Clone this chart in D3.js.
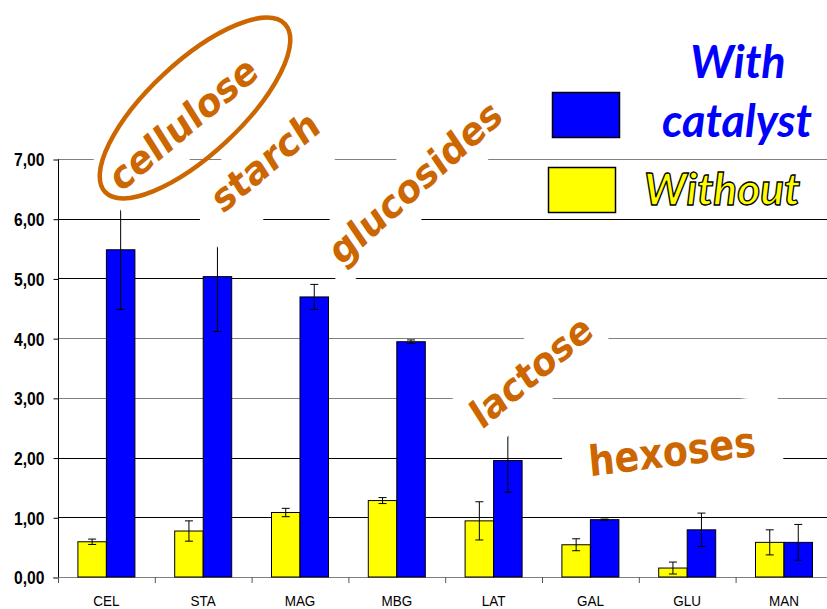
<!DOCTYPE html>
<html>
<head>
<meta charset="utf-8">
<script src="https://cdn.jsdelivr.net/npm/d3@7"></script>
<style>
  html, body { margin: 0; padding: 0; background: #fff; }
  svg { display: block; }
</style>
</head>
<body>
<div id="chart"></div>
<script>
// ---------- data ----------
const categories = ["CEL", "STA", "MAG", "MBG", "LAT", "GAL", "GLU", "MAN"];
const withoutValues = [0.59, 0.77, 1.08, 1.28, 0.94, 0.54, 0.15, 0.58];
const withoutErrors = [0.045, 0.17, 0.07, 0.05, 0.32, 0.10, 0.10, 0.21];
const withValues = [5.48, 5.03, 4.69, 3.94, 1.95, 0.96, 0.79, 0.58];
const withErrors = [1.00, 0.92, 0.21, 0.03, 0.53, 0.01, 0.28, 0.30];
const yTickValues = [0, 1, 2, 3, 4, 5, 6, 7];
const yTickLabels = ["0,00", "1,00", "2,00", "3,00", "4,00", "5,00", "6,00", "7,00"];
const seriesKeys = ["without", "with"];
const legendLabels = { with: ["With", "catalyst"], without: "Without" };
const annotationTexts = ["cellulose", "starch", "glucosides", "lactose", "hexoses"];

// ---------- layout ----------
const W = 827, H = 609;
const SX = 0.87; // horizontal squeeze of the original picture
const ORANGE = "#CC6600", BLUE = "#0000FF", YELLOW = "#FFFF00";
const colors = { without: YELLOW, with: BLUE };
const annotationLayout = [
  { cx: 183, cy: 123, angle: -40, size: 40, padL: 10, padR: 10, padT: 8, padB: 10 },
  { cx: 265, cy: 161, angle: -40, size: 40, padL: 24, padR: 10, padT: 8, padB: 22 },
  { cx: 415, cy: 182, angle: -42, size: 40, padL: 12, padR: 10, padT: 8, padB: 10 },
  { cx: 531, cy: 371, angle: -40, size: 40, padL: 10, padR: 10, padT: 8, padB: 13 },
  { cx: 672, cy: 451, angle: -7, size: 42, padL: 30, padR: 30, padT: 19, padB: 19 }
];

const svg = d3.select("#chart").append("svg")
  .attr("width", W).attr("height", H)
  .attr("font-family", "'Liberation Sans', Arial, sans-serif");

const x0 = d3.scaleBand().domain(categories).range([58, 832.4]);
const x1 = d3.scaleBand().domain(seriesKeys).range([0, x0.bandwidth()]).paddingOuter(0.698);
const y = d3.scaleLinear().domain([0, 7]).range([577, 159]);

// grid lines
const gridColor = v => ([3, 4, 7].includes(v) ? "#808080" : "#000");
svg.append("g").selectAll("line")
  .data(yTickValues.filter(v => v > 0))
  .join("line")
  .attr("x1", 58).attr("x2", W)
  .attr("y1", d => Math.round(y(d)) + 0.5).attr("y2", d => Math.round(y(d)) + 0.5)
  .attr("stroke", d => gridColor(d)).attr("stroke-width", 1);

// y axis
const yAxis = d3.axisLeft(y).tickValues(yTickValues).tickSize(5).tickSizeOuter(0)
  .tickFormat((d, i) => yTickLabels[i]);
const yg = svg.append("g").attr("transform", "translate(58.5,0.5)").call(yAxis);
yg.select(".domain").attr("stroke", "#000").attr("d", `M0,${y(7)}V${y(0) + 5}`);
yg.selectAll(".tick line").attr("stroke", "#000");
yg.selectAll(".tick text")
  .attr("font-family", "'Liberation Sans', Arial, sans-serif")
  .attr("font-size", 18).attr("font-weight", "bold").attr("fill", "#000")
  .attr("x", null).attr("dy", "0.36em")
  .attr("transform", `translate(-14,0) scale(${SX},1)`);

// x axis
const xg = svg.append("g");
xg.append("line").attr("x1", 53).attr("x2", W)
  .attr("y1", y(0) + 0.5).attr("y2", y(0) + 0.5).attr("stroke", "#808080");
xg.selectAll(".xt").data(categories).join("line").attr("class", "xt")
  .attr("x1", d => x0(d) + 0.5).attr("x2", d => x0(d) + 0.5)
  .attr("y1", y(0)).attr("y2", y(0) + 6).attr("stroke", "#555");
xg.selectAll(".xl").data(categories).join("text").attr("class", "xl")
  .attr("transform", d => `translate(${x0(d) + x0.bandwidth() / 2},606) scale(${SX},1)`)
  .attr("text-anchor", "middle").attr("font-size", 15.5).attr("fill", "#000")
  .text(d => d);

// bars
const rows = categories.map((c, i) => ({
  cat: c,
  without: { v: withoutValues[i], e: withoutErrors[i] },
  with: { v: withValues[i], e: withErrors[i] }
}));
const groups = svg.append("g").selectAll("g").data(rows).join("g")
  .attr("transform", d => `translate(${x0(d.cat)},0)`);
groups.selectAll("rect").data(d => seriesKeys.map(k => ({ k, ...d[k] }))).join("rect")
  .attr("x", d => x1(d.k)).attr("width", x1.bandwidth())
  .attr("y", d => y(d.v)).attr("height", d => y(0) - y(d.v))
  .attr("fill", d => colors[d.k]).attr("stroke", "#000").attr("stroke-width", 1);

// error bars
const eb = groups.selectAll("g.err").data(d => seriesKeys.map(k => ({ k, ...d[k] }))).join("g")
  .attr("class", "err").attr("stroke", "#000").attr("stroke-width", 1);
eb.append("line")
  .attr("x1", d => x1(d.k) + x1.bandwidth() / 2).attr("x2", d => x1(d.k) + x1.bandwidth() / 2)
  .attr("y1", d => y(d.v + d.e)).attr("y2", d => y(d.v - d.e));
eb.append("line")
  .attr("x1", d => x1(d.k) + x1.bandwidth() / 2 - 4).attr("x2", d => x1(d.k) + x1.bandwidth() / 2 + 4)
  .attr("y1", d => y(d.v + d.e)).attr("y2", d => y(d.v + d.e));
eb.append("line")
  .attr("x1", d => x1(d.k) + x1.bandwidth() / 2 - 4).attr("x2", d => x1(d.k) + x1.bandwidth() / 2 + 4)
  .attr("y1", d => y(d.v - d.e)).attr("y2", d => y(d.v - d.e));

// annotations (white text boxes)
annotationTexts.forEach((t, i) => {
  const L = annotationLayout[i];
  const rot = -Math.atan(SX * Math.tan(-L.angle * Math.PI / 180)) * 180 / Math.PI;
  const g = svg.append("g")
    .attr("transform", `translate(${L.cx},${L.cy}) scale(${SX},1) rotate(${rot})`);
  const txt = g.append("text")
    .attr("text-anchor", "middle").attr("dy", "0.36em")
    .attr("font-family", "'DejaVu Sans', Verdana, sans-serif")
    .attr("font-weight", "bold").attr("font-size", L.size)
    .attr("fill", ORANGE).text(t);
  const bb = txt.node().getBBox();
  g.insert("rect", "text")
    .attr("x", bb.x - L.padL).attr("y", bb.y - L.padT)
    .attr("width", bb.width + L.padL + L.padR).attr("height", bb.height + L.padT + L.padB)
    .attr("fill", "#fff");
});

// ellipse around "cellulose"
svg.append("ellipse")
  .attr("transform", "translate(195,108) rotate(-43)")
  .attr("rx", 123).attr("ry", 46)
  .attr("fill", "none").attr("stroke", ORANGE).attr("stroke-width", 4.5);

// legend
const lg = svg.append("g");
lg.append("rect").attr("x", 552.5).attr("y", 92.5).attr("width", 67).attr("height", 45)
  .attr("fill", BLUE).attr("stroke", "#000").attr("stroke-width", 1.5);
lg.append("rect").attr("x", 548.5).attr("y", 167.5).attr("width", 67).attr("height", 45)
  .attr("fill", YELLOW).attr("stroke", "#000").attr("stroke-width", 1.5);
const legendFont = "Lato, 'Open Sans', sans-serif";
lg.append("text").attr("x", 738).attr("y", 78).attr("text-anchor", "middle")
  .attr("font-family", legendFont).attr("font-weight", "bold").attr("font-style", "italic")
  .attr("font-size", 45).attr("fill", BLUE).text(legendLabels.with[0]);
lg.append("text").attr("x", 737).attr("y", 137).attr("text-anchor", "middle")
  .attr("font-family", legendFont).attr("font-weight", "bold").attr("font-style", "italic")
  .attr("font-size", 45).attr("fill", BLUE).text(legendLabels.with[1]);
lg.append("text").attr("x", 722).attr("y", 205).attr("text-anchor", "middle")
  .attr("font-family", legendFont).attr("font-weight", "bold").attr("font-style", "italic")
  .attr("font-size", 44).attr("fill", YELLOW).attr("stroke", "#000").attr("stroke-width", 1.3)
  .text(legendLabels.without);
</script>
</body>
</html>
